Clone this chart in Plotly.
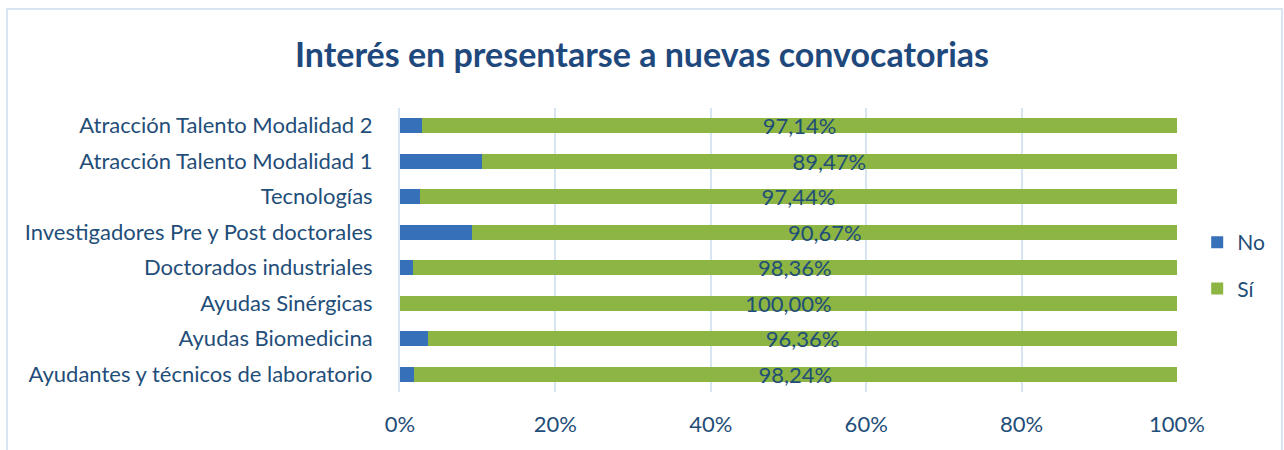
import plotly.graph_objects as go

categories = [
    "Ayudantes y técnicos de laboratorio",
    "Ayudas Biomedicina",
    "Ayudas Sinérgicas",
    "Doctorados industriales",
    "Investigadores Pre y Post doctorales",
    "Tecnologías",
    "Atracción Talento Modalidad 1",
    "Atracción Talento Modalidad 2",
]
no_values = [1.76, 3.64, 0.00, 1.64, 9.33, 2.56, 10.53, 2.86]
si_values = [98.24, 96.36, 100.00, 98.36, 90.67, 97.44, 89.47, 97.14]
tick_vals = [0, 20, 40, 60, 80, 100]
tick_text = ["0%", "20%", "40%", "60%", "80%", "100%"]

FONT = "Lato"
TXT = "#1f4e79"
GRID = "#d9e4f2"

fig = go.Figure()
fig.add_trace(go.Bar(
    y=categories, x=no_values, name="No", orientation="h",
    legendgroup="no",
    marker=dict(color="#3570b8", line=dict(width=0)),
))
fig.add_trace(go.Bar(
    y=categories, x=si_values, name="Sí", orientation="h",
    legendgroup="si",
    marker=dict(color="#8db543", line=dict(width=0)),
    text=[f"{v:.2f}%".replace(".", ",") for v in si_values],
    textposition="inside", insidetextanchor="middle", constraintext="none",
    textfont=dict(family=FONT, size=22, color=TXT),
    cliponaxis=False,
))

fig.update_layout(
    barmode="stack",
    bargap=0.58,
    width=1284, height=450,
    margin=dict(l=400, r=107, t=108, b=58),
    paper_bgcolor="white", plot_bgcolor="white",
    font=dict(family=FONT, size=22, color=TXT),
    title=dict(text="<b>Interés en presentarse a nuevas convocatorias</b>",
               x=0.5, xref="container", xanchor="center", y=0.878, yanchor="middle",
               font=dict(family=FONT, size=34, color="#1f497d")),
    legend=dict(orientation="v", x=1.026, y=0.445, xanchor="left", yanchor="middle",
                font=dict(family=FONT, size=21, color=TXT),
                traceorder="grouped", itemwidth=30, tracegroupgap=16),
    shapes=[dict(type="rect", xref="paper", yref="paper",
                 x0=(7 - 400) / 777, x1=(1282 - 400) / 777,
                 y0=(392 - 470) / 284, y1=(392 - 9) / 284,
                 line=dict(color=GRID, width=2), layer="below")],
)
fig.update_xaxes(range=[0, 100], tickvals=tick_vals, ticktext=tick_text,
                 showgrid=True, gridcolor=GRID, gridwidth=2,
                 zeroline=False, showline=False, ticks="",
                 ticklabelstandoff=17,
                 tickfont=dict(family=FONT, size=22, color=TXT))
fig.update_yaxes(showgrid=False, showline=True, linecolor=GRID, linewidth=2,
                 ticks="", ticklabelstandoff=21,
                 tickfont=dict(family=FONT, size=22, color=TXT))

fig.write_html("out.html", config={"displayModeBar": False},
               post_script="document.body.style.margin='0';document.body.style.overflow='hidden';")
